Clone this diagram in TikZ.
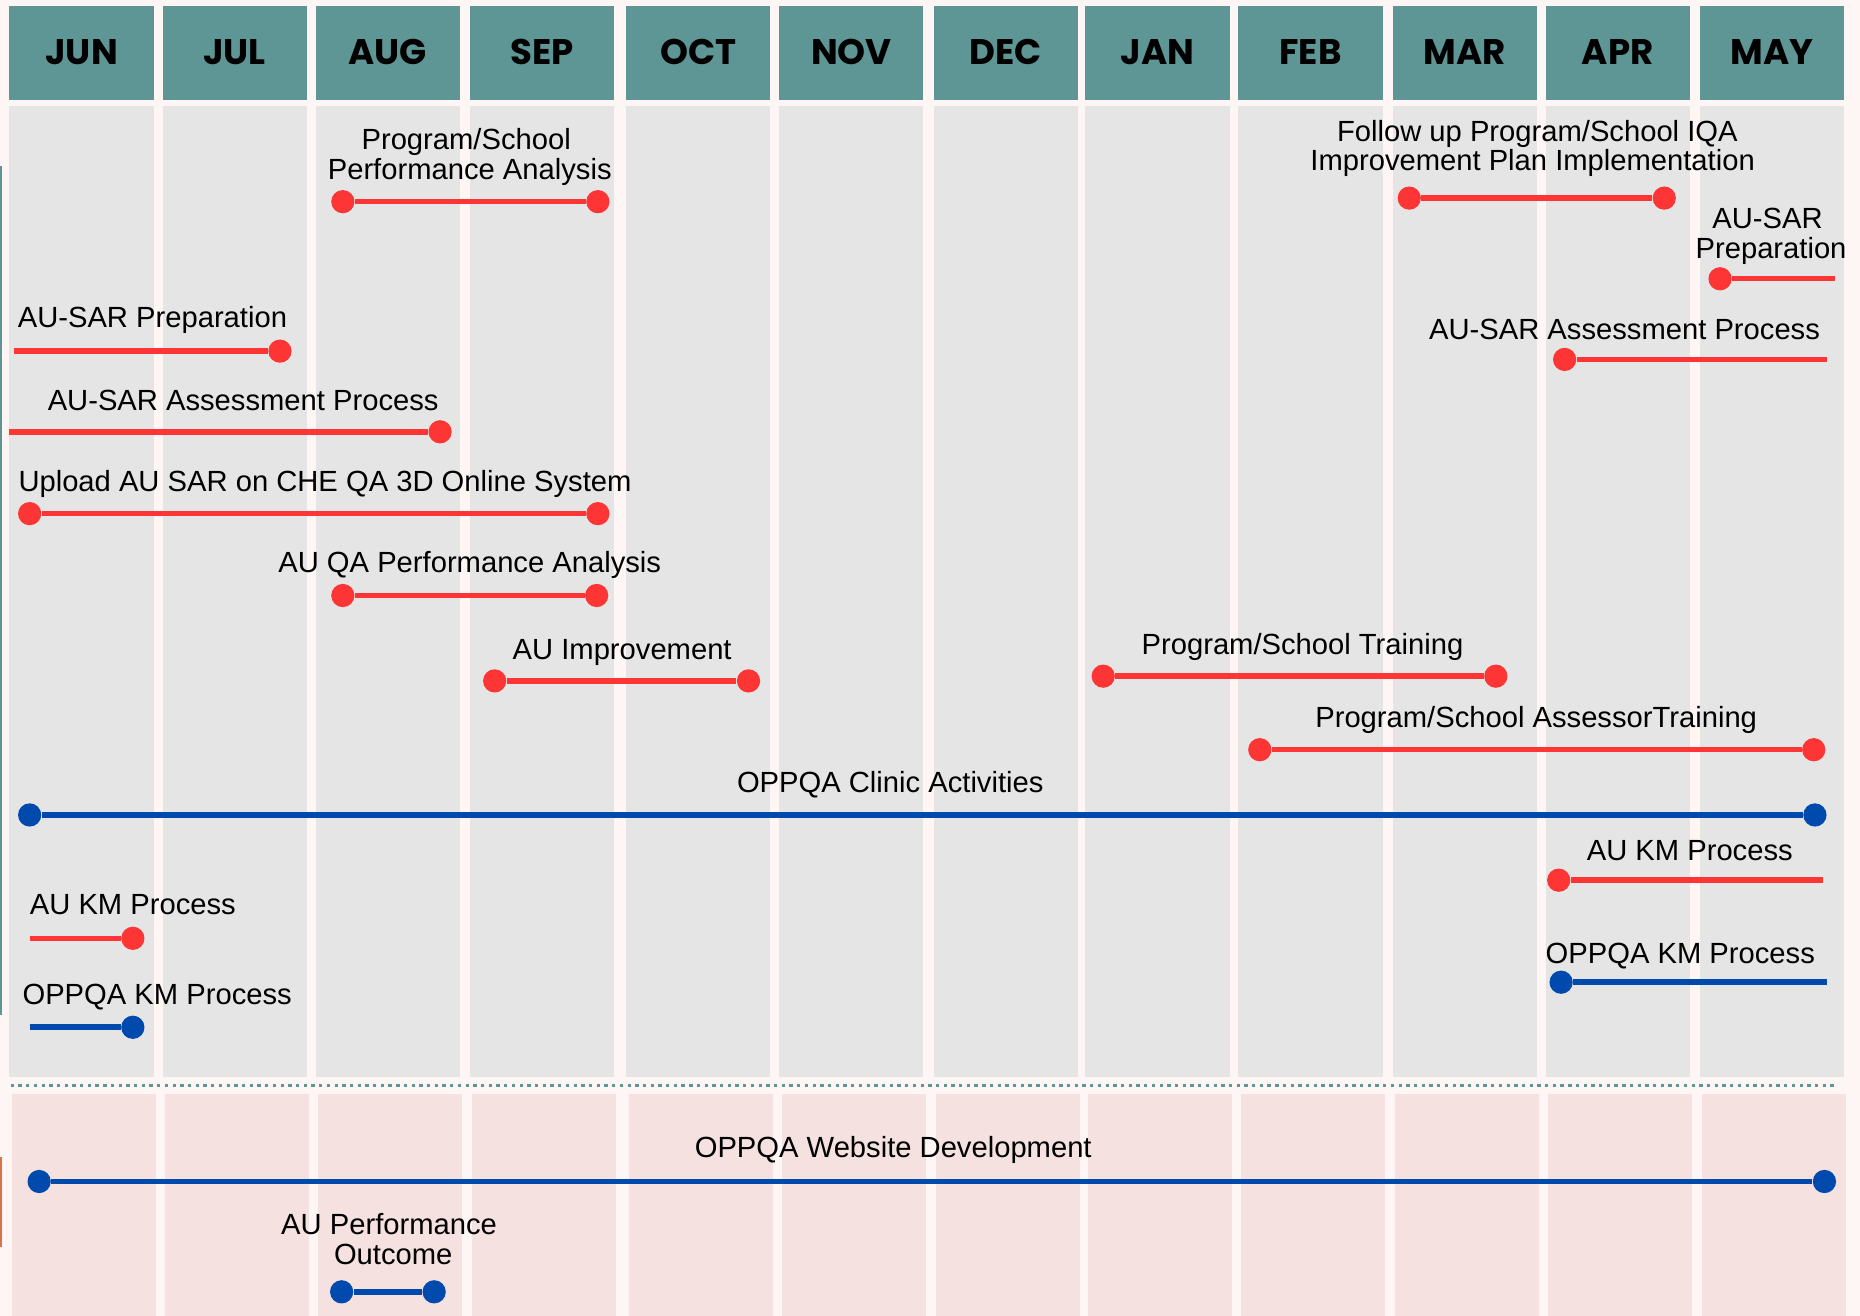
\documentclass[tikz,border=0pt]{standalone}
\usepackage{fontspec}
\setmainfont{Liberation Sans}
\newfontfamily\monthfont{Poppins}
\definecolor{bgpink}{HTML}{FEF5F5}
\definecolor{hdrteal}{HTML}{5E9695}
\definecolor{colgray}{HTML}{E5E5E5}
\definecolor{colpink}{HTML}{F5E1DF}
\definecolor{myred}{HTML}{FE3535}
\definecolor{myblue}{HTML}{004AAD}
\definecolor{edgeorange}{HTML}{D9734E}
\begin{document}
\begin{tikzpicture}[x=0.5pt,y=-0.5pt,
  hdr/.style={fill=hdrteal, draw=none},
  graycol/.style={fill=colgray, draw=none},
  pinkcol/.style={fill=colpink, draw=none},
  month/.style={anchor=center, inner sep=0, font=\monthfont\bfseries\fontsize{15}{17}\selectfont, text=black},
  lbl/.style={anchor=base, inner sep=0, font=\fontsize{12.3}{14}\selectfont, text=black},
  dotR/.style={circle, fill=myred, inner sep=0, minimum size=9.8pt},
  dotB/.style={circle, fill=myblue, inner sep=0, minimum size=9.8pt},
  barR/.style={draw=myred, line width=2.3pt},
  barB/.style={draw=myblue, line width=2.4pt},
  divider/.style={draw=hdrteal, line width=1.5pt, dash pattern=on 1.4pt off 1.85pt}
]
\useasboundingbox (0,0) rectangle (1568,1109);
\fill[bgpink] (0,0) rectangle (1568,1109);

% columns and headers
\foreach \xs/\m [count=\i] in {8/JUN,137/JUL,266/AUG,396/SEP,528/OCT,657/NOV,787/DEC,915/JAN,1044/FEB,1174/MAR,1303/APR,1433/MAY}{
  \fill[hdr] (\xs,5) rectangle ++(121.5,79);
  \fill[graycol] (\xs,89) rectangle ++(121.5,819);
  \fill[pinkcol] (\xs+2,922) rectangle ++(121.5,190);
  \node[month] (m\i) at (\xs+60.75,44) {\m};
}

% left edge strips
\fill[hdrteal] (0,140) rectangle (2,856);
\fill[edgeorange] (0,975) rectangle (2,1051);

% divider
\coordinate (dvL) at (9,915);
\coordinate (dvR) at (1548,915);
\draw[divider] (dvL) -- (dvR);

% 1
\node[lbl] (t1a) at (393,126) {Program/School};
\node[lbl] (t1b) at (396,151) {Performance Analysis};
\node[dotR] (d1a) at (289,170) {};
\node[dotR] (d1b) at (504,170) {};
\draw[barR] (d1a) -- (d1b);

% 2
\node[lbl] (t2a) at (1296,119) {Follow up Program/School IQA};
\node[lbl] (t2b) at (1292,144) {Improvement Plan Implementation};
\node[dotR] (d2a) at (1188,167) {};
\node[dotR] (d2b) at (1403,167) {};
\draw[barR] (d2a) -- (d2b);

% 3
\node[lbl] (t3a) at (1490,193) {AU-SAR};
\node[lbl] (t3b) at (1493,218) {Preparation};
\node[dotR] (d3) at (1450,235) {};
\coordinate (e3) at (1547,235);
\draw[barR] (d3) -- (e3);

% 4
\node[lbl] (t4) at (128.5,276) {AU-SAR Preparation};
\coordinate (e4) at (12,296);
\node[dotR] (d4) at (236,296) {};
\draw[barR] (e4) -- (d4);

% 5
\node[lbl] (t5) at (1369.5,286) {AU-SAR Assessment Process};
\node[dotR] (d5) at (1319,303) {};
\coordinate (e5) at (1540,303);
\draw[barR] (d5) -- (e5);

% 6
\node[lbl] (t6) at (205,346) {AU-SAR Assessment Process};
\coordinate (e6) at (8,364);
\node[dotR] (d6) at (371,364) {};
\draw[barR] (e6) -- (d6);

% 7
\node[lbl] (t7) at (274,414) {Upload AU SAR on CHE QA 3D Online System};
\node[dotR] (d7a) at (25,433) {};
\node[dotR] (d7b) at (504,433) {};
\draw[barR] (d7a) -- (d7b);

% 8
\node[lbl] (t8) at (396,483) {AU QA Performance Analysis};
\node[dotR] (d8a) at (289,502) {};
\node[dotR] (d8b) at (503,502) {};
\draw[barR] (d8a) -- (d8b);

% 9
\node[lbl] (t9) at (524.5,556) {AU Improvement};
\node[dotR] (d9a) at (417,574) {};
\node[dotR] (d9b) at (631,574) {};
\draw[barR] (d9a) -- (d9b);

% 10
\node[lbl] (t10) at (1098,552) {Program/School Training};
\node[dotR] (d10a) at (930,570) {};
\node[dotR] (d10b) at (1261,570) {};
\draw[barR] (d10a) -- (d10b);

% 11
\node[lbl] (t11) at (1295,613) {Program/School AssessorTraining};
\node[dotR] (d11a) at (1062,632) {};
\node[dotR] (d11b) at (1529,632) {};
\draw[barR] (d11a) -- (d11b);

% 12
\node[lbl] (t12) at (750.5,668) {OPPQA Clinic Activities};
\node[dotB] (d12a) at (25,687) {};
\node[dotB] (d12b) at (1530,687) {};
\draw[barB] (d12a) -- (d12b);

% 13
\node[lbl] (t13) at (1424.5,725) {AU KM Process};
\node[dotR] (d13) at (1314,742) {};
\coordinate (e13) at (1537,742);
\draw[barR] (d13) -- (e13);

% 14
\node[lbl] (t14) at (112,771) {AU KM Process};
\coordinate (e14) at (25,791);
\node[dotR] (d14) at (112,791) {};
\draw[barR] (e14) -- (d14);

% 15
\node[lbl] (t15) at (1416.5,812) {OPPQA KM Process};
\node[dotB] (d15) at (1316,828) {};
\coordinate (e15) at (1540,828);
\draw[barB] (d15) -- (e15);

% 16
\node[lbl] (t16) at (132.5,847) {OPPQA KM Process};
\coordinate (e16) at (25,866);
\node[dotB] (d16) at (112,866) {};
\draw[barB] (e16) -- (d16);

% 17
\node[lbl] (t17) at (753,976) {OPPQA Website Development};
\node[dotB] (d17a) at (33,996) {};
\node[dotB] (d17b) at (1538,996) {};
\draw[barB] (d17a) -- (d17b);

% 18
\node[lbl] (t18a) at (328,1041) {AU Performance};
\node[lbl] (t18b) at (331.5,1066) {Outcome};
\node[dotB] (d18a) at (288,1089) {};
\node[dotB] (d18b) at (366,1089) {};
\draw[barB] (d18a) -- (d18b);
\end{tikzpicture}
\end{document}
